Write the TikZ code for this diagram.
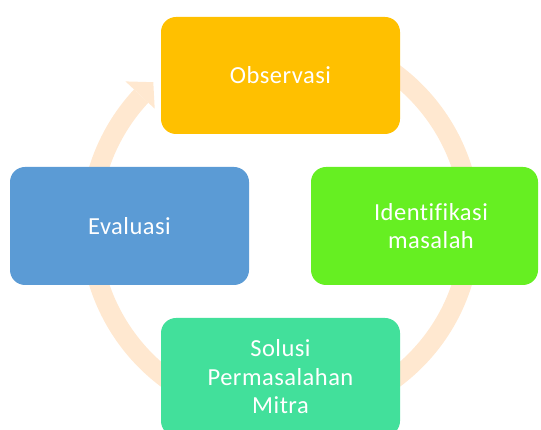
\documentclass[tikz,border=0pt]{standalone}
\usepackage{fontspec}
\setmainfont{Carlito}[Ligatures=NoCommon, LetterSpace=2]
\usetikzlibrary{calc}
\definecolor{obscol}{HTML}{FFC000}
\definecolor{idcol}{HTML}{66EF22}
\definecolor{evcol}{HTML}{5B9BD5}
\definecolor{solcol}{HTML}{42E09B}
\definecolor{arccol}{HTML}{FFE8D0}
\begin{document}
\begin{tikzpicture}[x=1pt,y=1pt,
  box/.style={rectangle, rounded corners=15pt, inner sep=0pt, minimum width=239pt, minimum height=118pt, text=white, align=center, font=\fontsize{24.5}{28.5}\selectfont},
  lbl/.style={text=white, align=center, inner sep=0pt, font=\fontsize{24.5}{28.5}\selectfont}]
\useasboundingbox (0,0) rectangle (541,430);
\clip (0,0) rectangle (541,430);
\coordinate (c) at (280.5,204);
% circular arrow
\draw[arccol, line width=19.5pt] ($(c)+(80:190.5)$) arc[start angle=80, end angle=-223, radius=190.5];
\fill[arccol] ($(c)+(137:212)$) -- ($(c)+(131.5:192)$) -- ($(c)+(137:172)$) -- cycle;
% boxes
\node[box, fill=obscol, minimum height=117pt] (obs) at (280.5,354.5) {Observasi};
\node[box, fill=idcol, minimum width=227pt] (idb) at (424.5,204) {};
\node[lbl] (idt) at (431,204) {Identifikasi\\masalah};
\node[box, fill=evcol] (ev) at (129.5,204) {Evaluasi};
\node[box, fill=solcol] (sol) at (280.5,53) {Solusi\\Permasalahan\\Mitra};
\end{tikzpicture}
\end{document}
